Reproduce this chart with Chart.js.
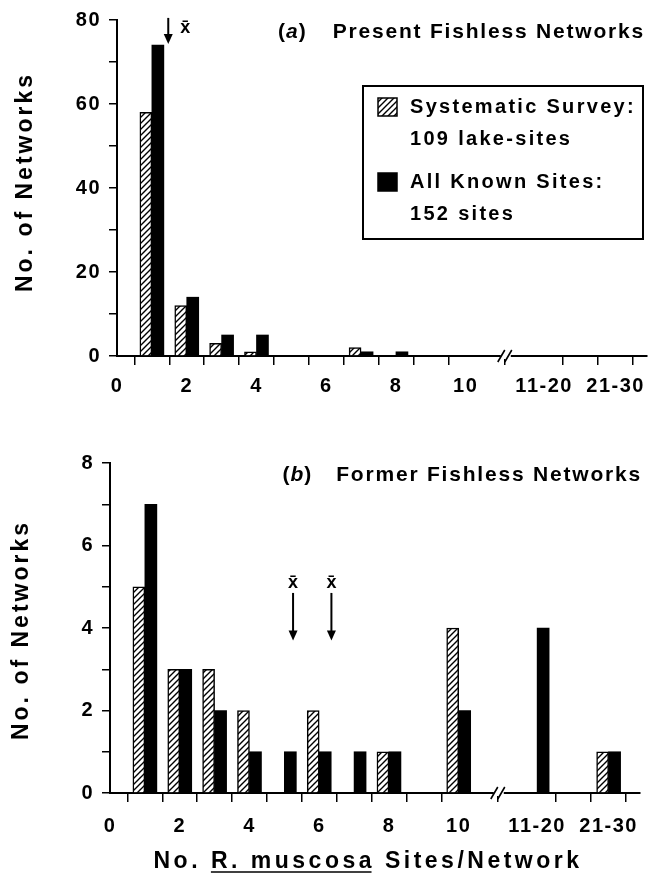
<!DOCTYPE html>
<html>
<head>
<meta charset="utf-8">
<script src="https://cdn.jsdelivr.net/npm/chart.js@4/dist/chart.umd.min.js"></script>
<style>
	body { margin: 0; background: #fff; }
	#wrap { position: relative; width: 656px; height: 890px; }
	canvas { position: absolute; left: 0; }
	#present { top: 0; }
	#former { top: 420px; }
</style>
</head>
<body>
<div id="wrap">
	<canvas id="present" width="656" height="420"></canvas>
	<canvas id="former" width="656" height="470"></canvas>
</div>
<script>
// bins on the x axis; the two grouped bins sit after the axis break
const binPositions = [1, 2, 3, 4, 5, 6, 7, 8, 9, 10, 12.25, 14.3];

const xTickValues = [0, 1, 2, 3, 4, 5, 6, 7, 8, 9, 10, 12.25, 13.3, 14.3];
const xTickLabels = ['0', '', '2', '', '4', '', '6', '', '8', '', '10', '11-20', '', '21-30'];
const axisBreakAt = 11.15;

// (a) present fishless networks
const presentSurvey = [58, 12, 3, 1, 0, 0, 2, 0, 0, 0, 0, 0];
const presentAll = [74, 14, 5, 5, 0, 0, 1, 1, 0, 0, 0, 0];
const presentYTicks = [0, 10, 20, 30, 40, 50, 60, 70, 80];
const presentYLabels = ['0', '', '20', '', '40', '', '60', '', '80'];
const presentMeans = [1.47];

// (b) former fishless networks
const formerSurvey = [5, 3, 3, 2, 0, 2, 0, 1, 0, 4, 0, 1];
const formerAll = [7, 3, 2, 1, 1, 1, 1, 1, 0, 2, 4, 1];
const formerYTicks = [0, 1, 2, 3, 4, 5, 6, 7, 8];
const formerYLabels = ['0', '', '2', '', '4', '', '6', '', '8'];
const formerMeans = [5.25, 6.35];

const seriesNames = ['Systematic Survey:', 'All Known Sites:'];
const seriesNotes = ['109 lake-sites', '152 sites'];
const yTitle = 'No. of Networks';
const xTitleParts = ['No. ', 'R. muscosa', ' Sites/Network'];

const FONT = '"Liberation Sans", Arial, sans-serif';

function hatchPattern() {
	const c = document.createElement('canvas');
	c.width = 6;
	c.height = 6;
	const g = c.getContext('2d');
	g.fillStyle = '#fff';
	g.fillRect(0, 0, 6, 6);
	g.strokeStyle = '#000';
	g.lineWidth = 1.4;
	g.beginPath();
	g.moveTo(-1, 7); g.lineTo(7, -1);
	g.moveTo(-1, 1); g.lineTo(1, -1);
	g.moveTo(5, 7); g.lineTo(7, 5);
	g.stroke();
	return g.createPattern(c, 'repeat');
}
const hatch = hatchPattern();

function drawArrow(ctx, x, yFrom, yTo) {
	ctx.lineWidth = 2;
	ctx.beginPath();
	ctx.moveTo(x, yFrom);
	ctx.lineTo(x, yTo - 8);
	ctx.stroke();
	ctx.beginPath();
	ctx.moveTo(x - 4.5, yTo - 10);
	ctx.lineTo(x + 4.5, yTo - 10);
	ctx.lineTo(x, yTo);
	ctx.closePath();
	ctx.fill();
}

const decor = {
	id: 'decor',
	beforeDraw(chart) {
		chart.ctx.letterSpacing = '1.5px';
	},
	afterDraw(chart, args, o) {
		const { ctx, chartArea: a } = chart;
		const x = chart.scales.x, y = chart.scales.y;
		ctx.save();
		ctx.fillStyle = '#000';
		ctx.strokeStyle = '#000';

		// axis break //
		const bx = x.getPixelForValue(axisBreakAt), by = a.bottom;
		ctx.fillStyle = '#fff';
		ctx.fillRect(bx - 5, by - 3, 10, 6);
		ctx.fillStyle = '#000';
		ctx.lineWidth = 1.6;
		ctx.beginPath();
		ctx.moveTo(bx - 8, by + 6); ctx.lineTo(bx - 1, by - 6);
		ctx.moveTo(bx - 1, by + 6); ctx.lineTo(bx + 6, by - 6);
		ctx.stroke();

		// panel title
		const mainFont = 'bold 21px ' + FONT;
		const ty = a.top + 12;
		ctx.textBaseline = 'middle';
		ctx.font = mainFont;
		ctx.letterSpacing = '1.8px';
		const tw = ctx.measureText(o.title).width;
		const tStart = a.right - o.titleInset - tw;
		ctx.textAlign = 'left';
		ctx.fillText(o.title, tStart, ty);
		ctx.letterSpacing = '0px';
		ctx.textAlign = 'right';
		let px = tStart - o.tagGap;
		ctx.fillText(')', px, ty);
		px -= ctx.measureText(')').width + 1;
		ctx.font = 'italic ' + mainFont;
		ctx.fillText(o.tag, px, ty);
		px -= ctx.measureText(o.tag).width + 1;
		ctx.font = mainFont;
		ctx.fillText('(', px, ty);

		// y title
		ctx.save();
		ctx.translate(o.yTitleX, (a.top + a.bottom) / 2 + o.yTitleDy);
		ctx.rotate(-Math.PI / 2);
		ctx.font = 'bold 23px ' + FONT;
		ctx.letterSpacing = '3px';
		ctx.textAlign = 'center';
		ctx.fillText(yTitle, 0, 0);
		ctx.restore();

		// means
		ctx.font = 'bold 18px ' + FONT;
		ctx.letterSpacing = '0px';
		ctx.textAlign = 'center';
		o.means.forEach((m) => {
			const mx = x.getPixelForValue(m);
			const y0 = y.getPixelForValue(o.arrowFrom);
			const y1 = y.getPixelForValue(o.arrowTo);
			drawArrow(ctx, mx, y0, y1);
			if (o.meanLabelSide === 'right') {
				ctx.fillText('x\u0304', mx + 17, y0 + 10);
			} else {
				ctx.fillText('x\u0304', mx, y0 - 10);
			}
		});

		// legend box
		if (o.legend) {
			const bw = 280, bh = 153;
			const bl = a.right - 4 - bw, bt = a.top + 66;
			ctx.lineWidth = 2;
			ctx.strokeRect(bl, bt, bw, bh);
			ctx.font = 'bold 20px ' + FONT;
			ctx.letterSpacing = '2.3px';
			ctx.textAlign = 'left';
			const rows = [[bt + 21, bt + 53], [bt + 96, bt + 128]];
			const boxes = [bt + 12, bt + 87];
			[hatch, '#000'].forEach((fill, i) => {
				ctx.fillStyle = fill;
				ctx.fillRect(bl + 15, boxes[i], 19, 18);
				ctx.lineWidth = 1.5;
				ctx.strokeRect(bl + 15, boxes[i], 19, 18);
				ctx.fillStyle = '#000';
				ctx.fillText(seriesNames[i], bl + 47, rows[i][0]);
				ctx.fillText(seriesNotes[i], bl + 47, rows[i][1]);
			});
		}

		// x title with underlined species name
		if (o.xTitle) {
			ctx.font = 'bold 23px ' + FONT;
			ctx.letterSpacing = '3.5px';
			ctx.textAlign = 'left';
			ctx.textBaseline = 'alphabetic';
			const widths = xTitleParts.map((t) => ctx.measureText(t).width);
			const total = widths.reduce((s, w) => s + w, 0);
			let cx = (a.left + a.right) / 2 - 7 - total / 2;
			const base = a.bottom + 75;
			xTitleParts.forEach((t, i) => {
				ctx.fillText(t, cx, base);
				if (i === 1) {
					ctx.lineWidth = 1.5;
					ctx.beginPath();
					ctx.moveTo(cx, base + 4);
					ctx.lineTo(cx + widths[i] - 3.5, base + 4);
					ctx.stroke();
				}
				cx += widths[i];
			});
		}
		ctx.restore();
	},
};

function panelChart(id, cfg) {
	const tickFont = { family: FONT, size: 20, weight: 'bold' };
	return new Chart(document.getElementById(id), {
		type: 'bar',
		data: {
			datasets: [
				{
					label: seriesNames[0],
					data: binPositions.map((v, i) => ({ x: v, y: cfg.survey[i] })),
					backgroundColor: hatch,
					borderColor: '#000',
					borderWidth: 1.5,
					barThickness: 12,
				},
				{
					label: seriesNames[1],
					data: binPositions.map((v, i) => ({ x: v, y: cfg.all[i] })),
					backgroundColor: '#000',
					borderColor: '#000',
					borderWidth: 0,
					barThickness: 12,
				},
			],
		},
		options: {
			responsive: false,
			animation: false,
			layout: { padding: cfg.padding },
			plugins: {
				legend: { display: false },
				tooltip: { enabled: false },
				decor: cfg.decor,
			},
			scales: {
				x: {
					type: 'linear',
					min: 0,
					max: 15.2,
					offset: false,
					afterBuildTicks: (s) => { s.ticks = xTickValues.map((v) => ({ value: v })); },
					afterFit: (s) => { s.height = cfg.xHeight; },
					ticks: {
						autoSkip: false,
						maxRotation: 0,
						padding: cfg.xPad,
						color: '#000',
						font: tickFont,
						callback: (v, i) => xTickLabels[i],
					},
					grid: { drawOnChartArea: false, drawTicks: true, tickLength: 9, color: '#000', lineWidth: 1.5 },
					border: { display: true, color: '#000', width: 2 },
				},
				y: {
					min: 0,
					max: cfg.yTicks[cfg.yTicks.length - 1],
					afterBuildTicks: (s) => { s.ticks = cfg.yTicks.map((v) => ({ value: v })); },
					afterFit: (s) => { s.width = cfg.yWidth; },
					ticks: {
						padding: 8,
						color: '#000',
						font: tickFont,
						callback: (v, i) => cfg.yLabels[i],
					},
					grid: { drawOnChartArea: false, drawTicks: true, tickLength: 8, color: '#000', lineWidth: 1.5 },
					border: { display: true, color: '#000', width: 2 },
				},
			},
		},
		plugins: [decor],
	});
}

panelChart('present', {
	survey: presentSurvey,
	all: presentAll,
	yTicks: presentYTicks,
	yLabels: presentYLabels,
	yWidth: 117,
	xHeight: 64,
	xPad: 9,
	padding: { left: 0, top: 19, right: 9, bottom: 0 },
	decor: {
		tag: 'a',
		title: 'Present Fishless Networks',
		titleInset: 2,
		tagGap: 27,
		yTitleX: 26,
		yTitleDy: -6,
		means: presentMeans,
		arrowFrom: 80.5,
		arrowTo: 74.3,
		meanLabelSide: 'right',
		legend: true,
		xTitle: false,
	},
});

panelChart('former', {
	survey: formerSurvey,
	all: formerAll,
	yTicks: formerYTicks,
	yLabels: formerYLabels,
	yWidth: 110,
	xHeight: 97,
	xPad: 12,
	padding: { left: 0, top: 43, right: 16, bottom: 0 },
	decor: {
		tag: 'b',
		title: 'Former Fishless Networks',
		titleInset: -2,
		tagGap: 25,
		yTitleX: 22,
		yTitleDy: 2,
		means: formerMeans,
		arrowFrom: 4.85,
		arrowTo: 3.7,
		meanLabelSide: 'top',
		legend: false,
		xTitle: true,
	},
});
</script>
</body>
</html>
